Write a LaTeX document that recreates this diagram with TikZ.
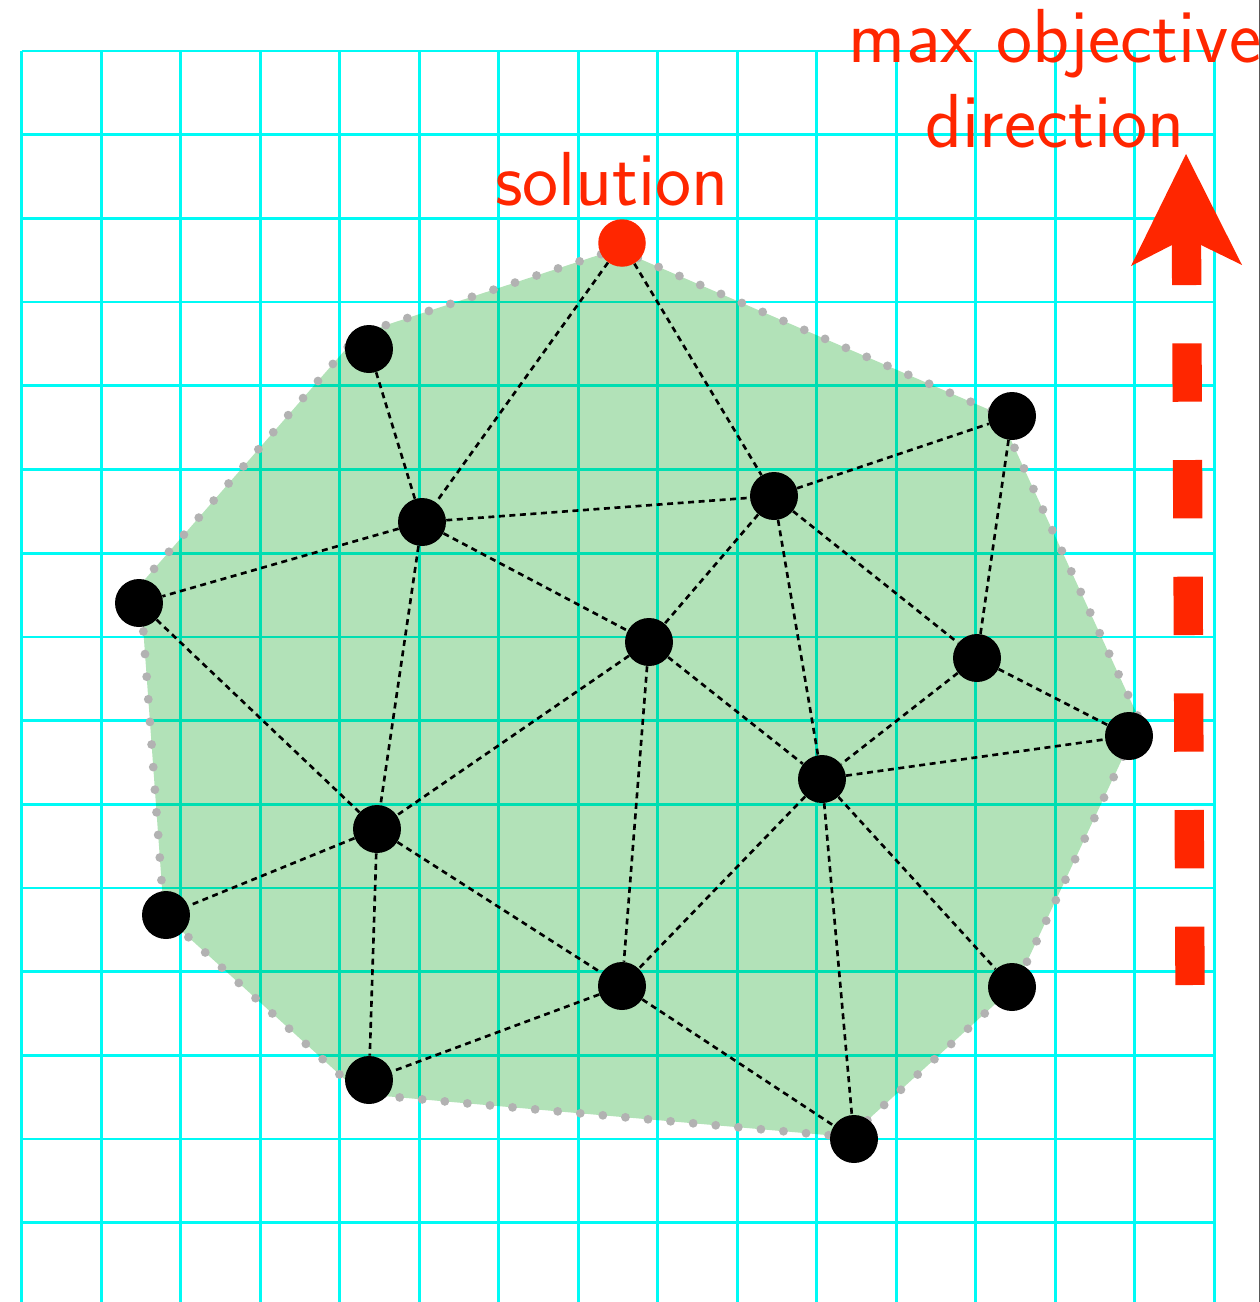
\documentclass[tikz,border=0pt]{standalone}
\usepackage{fontspec}
\definecolor{gridcyan}{RGB}{0,250,245}
\definecolor{greenfill}{RGB}{0,160,20}
\definecolor{hullgray}{RGB}{178,178,178}
\definecolor{objred}{RGB}{255,38,0}
\definecolor{bordergray}{RGB}{90,90,90}
\begin{document}
\begin{tikzpicture}[x=0.02cm,y=-0.02cm,
  gridline/.style={draw=gridcyan, line width=1.5pt},
  vertex/.style={circle, fill=black, minimum size=0.96cm, inner sep=0pt},
  soln/.style={circle, fill=objred, minimum size=0.95cm, inner sep=0pt},
  link/.style={draw=black, line width=1.5pt, dash pattern=on 3.4pt off 2.6pt},
  hull/.style={draw=hullgray, line width=5pt, line cap=round, dash pattern=on 0pt off 12.9pt},
  redtext/.style={text=objred, font=\sffamily\fontsize{43.6}{48.2}\selectfont, inner sep=0pt}]

\useasboundingbox (0,0) rectangle (1260,1302);
\fill[white] (0,0) rectangle (1260,1302);

% grid
\foreach \i in {0,...,15} \draw[gridline] ({21.7+79.5*\i},51) -- ({21.7+79.5*\i},1302);
\foreach \j in {0,...,14} \draw[gridline] (21.7,{51+83.7*\j}) -- (1214.2,{51+83.7*\j});

% feasible region
\fill[greenfill, fill opacity=0.3] (617,249) -- (999,414) -- (1140,721) -- (1016,985) -- (849,1137) -- (361,1094) -- (164,915) -- (140,585) -- (359,334) -- cycle;
\draw[hull] (617,249) -- (999,414) -- (1140,721) -- (1016,985) -- (849,1137) -- (361,1094) -- (164,915) -- (140,585) -- (359,334) -- cycle;

% vertices
\node[soln] (sol) at (622,243) {};
\node[vertex] (n1) at (369,349) {};
\node[vertex] (n2) at (1012,416) {};
\node[vertex] (n3) at (422,522) {};
\node[vertex] (n4) at (774,496) {};
\node[vertex] (n5) at (139,603) {};
\node[vertex] (n6) at (649,642) {};
\node[vertex] (n7) at (977,658) {};
\node[vertex] (n8) at (1129,736) {};
\node[vertex] (n9) at (822,779) {};
\node[vertex] (n10) at (377,829) {};
\node[vertex] (n11) at (166,915) {};
\node[vertex] (n12) at (622,986) {};
\node[vertex] (n13) at (1012,987) {};
\node[vertex] (n14) at (369,1080) {};
\node[vertex] (n15) at (854,1139) {};

% triangulation edges
\foreach \a/\b in {sol/n3, sol/n4, n1/n3, n3/n4, n3/n5, n3/n6, n3/n10, n4/n2, n4/n6, n4/n7, n4/n9,
  n2/n7, n7/n8, n7/n9, n9/n8, n6/n9, n6/n10, n6/n12, n5/n10, n10/n11, n10/n12, n10/n14,
  n9/n12, n9/n13, n9/n15, n12/n14, n12/n15}
  \draw[link] (\a) -- (\b);

% objective direction arrow
\coordinate (arrowtail) at (1190,985);
\coordinate (arrowbase) at (1186.5,245);
\coordinate (arrowtip) at (1186,154);
\draw[objred, line width=16.7pt, dash pattern=on 33.2pt off 33.2pt] (arrowtail) -- (arrowbase);
\fill[objred] (arrowtip) -- (1242,265) -- (1201,245) -- (1172,245) -- (1131,266) -- cycle;

% labels
\node[redtext, anchor=base] (soltext) at (612,205) {solution};
\node[redtext, align=center, anchor=base] (dirtext) at (1055,147) {max\hspace{0.3em}objective\\direction};

% right border
\draw[bordergray, line width=0.7pt] (1259.4,0) -- (1259.4,1302);
\end{tikzpicture}
\end{document}
